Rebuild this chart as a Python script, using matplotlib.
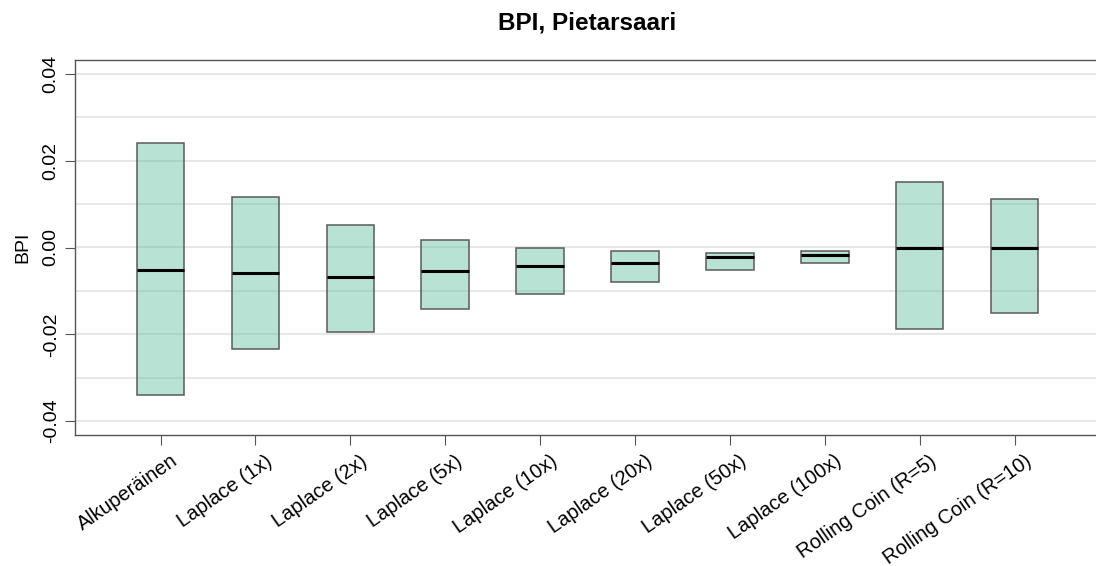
import numpy as np
import matplotlib.pyplot as plt
from matplotlib.transforms import ScaledTranslation

plt.rcParams['font.family'] = ['Liberation Sans', 'DejaVu Sans']

# BPI spread per method (low, high) and median
methods = ['Alkuperäinen', 'Laplace (1x)', 'Laplace (2x)', 'Laplace (5x)', 'Laplace (10x)',
           'Laplace (20x)', 'Laplace (50x)', 'Laplace (100x)', 'Rolling Coin (R=5)', 'Rolling Coin (R=10)']
low = [-0.0340, -0.0234, -0.0194, -0.0141, -0.0106, -0.0079, -0.0051, -0.0035, -0.0187, -0.0150]
high = [0.0240, 0.0116, 0.0051, 0.0018, 0.0000, -0.0009, -0.0012, -0.0009, 0.0150, 0.0111]
median = [-0.0051, -0.0058, -0.0067, -0.0053, -0.0042, -0.0035, -0.0023, -0.0018, 0.0000, 0.0000]
yticks = [-0.04, -0.02, 0.00, 0.02, 0.04]

n = len(methods)
pos = np.arange(n)
width = 0.5

fig = plt.figure(figsize=(10.96, 5.66), dpi=100)
ax = fig.add_axes([75 / 1096, 1 - 435 / 566, 1024 / 1096, 375 / 566])

for y in np.arange(-0.04, 0.0401, 0.01):
    ax.axhline(y, color='#e3e3e3', lw=1.2, zorder=0)

heights = np.array(high) - np.array(low)
ax.bar(pos, heights, width=width, bottom=low, color='#66c2a5', alpha=0.47,
       edgecolor='none', zorder=2)
ax.bar(pos, heights, width=width, bottom=low, facecolor='none',
       edgecolor='#5a5a5a', lw=1.1, zorder=3)
ax.hlines(median, pos - width / 2, pos + width / 2, color='black', lw=2.2, zorder=4)

ax.set_xlim(-0.901, 9.889)
ax.set_ylim(-0.0432, 0.0432)

ax.set_yticks(yticks)
ax.set_yticklabels(['%.2f' % v for v in yticks], rotation=90, va='center', fontsize=14)
ax.set_xticks(pos)
ax.set_xticklabels(methods, rotation=35, ha='right', va='center', rotation_mode='anchor',
                   fontsize=14.5)
ax.tick_params(axis='both', length=7, width=0.8, color='#555555')
ax.tick_params(axis='y', pad=4)
ax.tick_params(axis='x', pad=14)

# nudge the slanted labels right/up so they end just past the tick
shift = ScaledTranslation(15 / 100, 5 / 100, fig.dpi_scale_trans)
for lab in ax.get_xticklabels():
    lab.set_transform(lab.get_transform() + shift)

for side in ['left', 'bottom', 'top']:
    ax.spines[side].set_color('#555555')
    ax.spines[side].set_linewidth(1.0)
ax.spines['right'].set_visible(False)

ax.set_ylabel('BPI', fontsize=14, labelpad=8)
ax.set_title('BPI, Pietarsaari', fontsize=17.5, fontweight='bold', pad=22)

fig.savefig('out.png', dpi=100)
